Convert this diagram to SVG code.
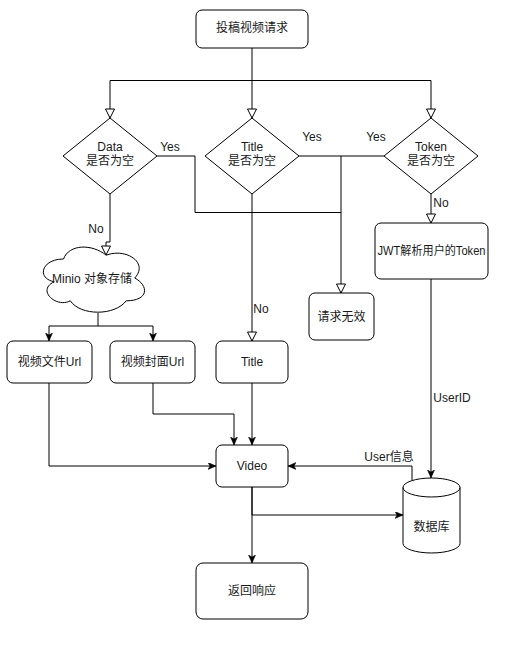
<svg xmlns="http://www.w3.org/2000/svg" width="518" height="650" viewBox="0 0 518 650">
<style>
.n{fill:#fff;stroke:#000;stroke-width:1}
.t{font-family:"Liberation Sans","Noto Sans CJK SC",sans-serif;font-size:12px;fill:#1a1a1a;text-anchor:middle}
.l{font-family:"Liberation Sans","Noto Sans CJK SC",sans-serif;font-size:12px;fill:#1a1a1a;text-anchor:middle}
.c{fill:none;stroke:#000;stroke-width:1}
.h{marker-end:url(#hollow)}
.f{marker-end:url(#filled)}
</style>
<defs>
<marker id="hollow" markerUnits="userSpaceOnUse" markerWidth="12" markerHeight="12" refX="9" refY="4.5" orient="auto" viewBox="-1 -1 12 12">
<path d="M0,0 L9,4.5 L0,9 Z" fill="#fff" stroke="#000" stroke-width="1"/>
</marker>
<marker id="filled" markerUnits="userSpaceOnUse" markerWidth="10" markerHeight="10" refX="8" refY="3.5" orient="auto" viewBox="0 0 10 10">
<path d="M0,0 L8,3.5 L0,7 L2,3.5 Z" fill="#000" stroke="#000" stroke-width="0.5"/>
</marker>
</defs>
<g id="connectors">
<path class="c h" d="M252,48 V118"/>
<path class="c h" d="M252,80.5 H110 V118"/>
<path class="c h" d="M252,80.5 H431 V118"/>
<path class="c" d="M157,156 H195 V212.5 H341"/>
<path class="c h" d="M299,156 H341 V293"/>
<path class="c" d="M384,156 H341"/>
<path class="c h" d="M110,194 V242 H106 V255"/>
<path class="c h" d="M252,194 V341"/>
<path class="c h" d="M431,194 V223"/>
<path class="c f" d="M98,313 V326 H49 V341"/>
<path class="c f" d="M98,326 H153 V341"/>
<path class="c f" d="M49,383 V466 H216"/>
<path class="c f" d="M153,383 V414 H234 V445"/>
<path class="c f" d="M252,383 V445"/>
<path class="c f" d="M431,279 V478"/>
<path class="c f" d="M412,480.5 V466 H288"/>
<path class="c f" d="M252,487 V515 H403"/>
<path class="c f" d="M252,487 V563"/>
<text class="l" x="170" y="151">Yes</text>
<text class="l" x="312" y="141">Yes</text>
<text class="l" x="376" y="141">Yes</text>
<text class="l" x="96" y="233">No</text>
<text class="l" x="261" y="313">No</text>
<text class="l" x="441" y="207">No</text>
<text class="l" x="452" y="402">UserID</text>
<text class="l" x="389" y="461">User信息</text>
</g>
<g id="start">
<rect class="n" x="196" y="10" width="112" height="38" rx="6"/>
<text class="t" x="252" y="32">投稿视频请求</text>
</g>
<g id="data-check">
<path class="n" d="M110,118 L157,156 L110,194 L63,156 Z"/>
<text class="t" x="110" y="151">Data</text>
<text class="t" x="110" y="165">是否为空</text>
</g>
<g id="title-check">
<path class="n" d="M252,118 L299,156 L252,194 L205,156 Z"/>
<text class="t" x="252" y="151">Title</text>
<text class="t" x="252" y="165">是否为空</text>
</g>
<g id="token-check">
<path class="n" d="M431,118 L478,156 L431,194 L384,156 Z"/>
<text class="t" x="431" y="151">Token</text>
<text class="t" x="431" y="165">是否为空</text>
</g>
<g id="minio">
<path class="n" d="M63.5,259 C41.7,259 36,278 54.2,281.8 C36,290.2 56.5,308.4 70.3,300.8 C80.6,316 114.8,316 126.2,300.8 C149,300.8 149,285.6 134.75,278 C149,262.8 126.2,247.6 106.25,255.2 C92,243.8 69.2,243.8 63.5,259 Z"/>
<text class="t" x="92" y="283">Minio 对象存储</text>
</g>
<g id="video-file-url">
<rect class="n" x="7" y="341" width="85" height="42" rx="6"/>
<text class="t" x="49.5" y="366">视频文件Url</text>
</g>
<g id="video-cover-url">
<rect class="n" x="110" y="341" width="85" height="42" rx="6"/>
<text class="t" x="152.5" y="366">视频封面Url</text>
</g>
<g id="title">
<rect class="n" x="216" y="341" width="72" height="42" rx="6"/>
<text class="t" x="252" y="366">Title</text>
</g>
<g id="invalid">
<rect class="n" x="309" y="293" width="65" height="47" rx="6"/>
<text class="t" x="341.5" y="321">请求无效</text>
</g>
<g id="jwt">
<rect class="n" x="375" y="223" width="113" height="56" rx="6"/>
<text class="t" x="431.5" y="255" textLength="108" lengthAdjust="spacingAndGlyphs">JWT解析用户的Token</text>
</g>
<g id="video">
<rect class="n" x="216" y="445" width="72" height="42" rx="6"/>
<text class="t" x="252" y="470">Video</text>
</g>
<g id="database">
<path class="n" d="M403,487.5 A28.5,9.5 0 0 1 460,487.5 V543.5 A28.5,9.5 0 0 1 403,543.5 Z"/>
<path class="c" d="M403,487.5 A28.5,9.5 0 0 0 460,487.5"/>
<text class="t" x="431.5" y="531">数据库</text>
</g>
<g id="response">
<rect class="n" x="196" y="563" width="112" height="56" rx="7"/>
<text class="t" x="252" y="595">返回响应</text>
</g>
</svg>
